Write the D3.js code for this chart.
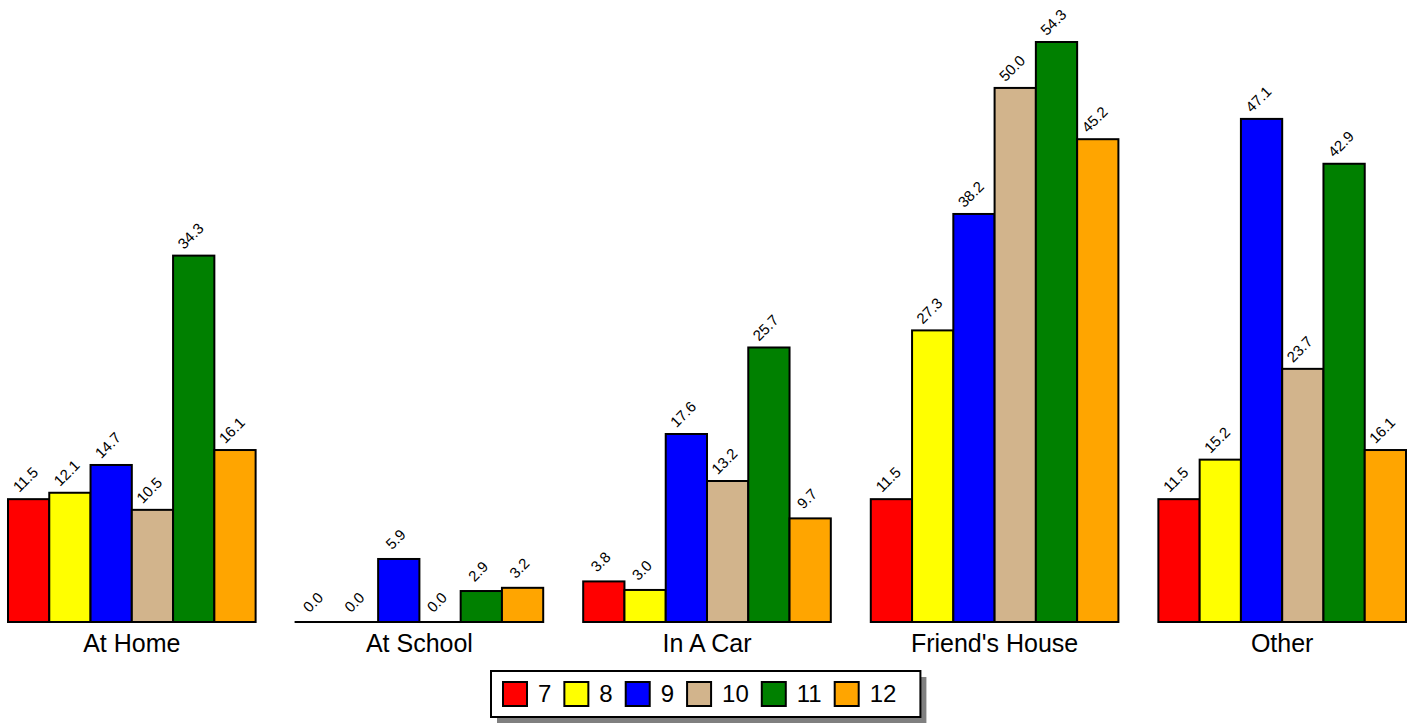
<!DOCTYPE html>
<html lang="en">
  <head>
    <meta charset="UTF-8" />
    <title>Chart</title>
    <script src="https://d3js.org/d3.v7.min.js"></script>
    <style>
      * {
        margin: 0;
        padding: 0;
      }
      body {
        background: #fff;
      }
      text {
        font-family: "Liberation Sans", Arial, sans-serif;
      }
      .value {
        font-size: 15px;
      }
      .cat {
        font-size: 25px;
      }
      .legend-label {
        font-size: 24px;
      }
    </style>
  </head>
  <body>
    <script>
      const categories = ["At Home", "At School", "In A Car", "Friend's House", "Other"];
      const grades = ["7", "8", "9", "10", "11", "12"];
      const colors = ["#ff0000", "#ffff00", "#0000ff", "#d2b48c", "#008000", "#ffa500"];

      // one array per grade, in the order of categories
      const grade7 = [11.5, 0.0, 3.8, 11.5, 11.5];
      const grade8 = [12.1, 0.0, 3.0, 27.3, 15.2];
      const grade9 = [14.7, 5.9, 17.6, 38.2, 47.1];
      const grade10 = [10.5, 0.0, 13.2, 50.0, 23.7];
      const grade11 = [34.3, 2.9, 25.7, 54.3, 42.9];
      const grade12 = [16.1, 3.2, 9.7, 45.2, 16.1];
      const series = [grade7, grade8, grade9, grade10, grade11, grade12];

      let w = 1418;
      let h = 723;

      let svg = d3
        .select("body")
        .append("svg")
        .attr("width", w)
        .attr("height", h);

      let x0 = d3
        .scaleBand()
        .domain(categories)
        .range([8, 1406])
        .paddingInner(0.139)
        .paddingOuter(0);

      let x1 = d3.scaleBand().domain(grades).range([0, x0.bandwidth()]);

      let maxV = d3.max(series, (s) => d3.max(s));
      let y = d3.scaleLinear().domain([0, maxV]).range([622, 42]);

      let rows = [];
      categories.forEach((c, ci) => {
        grades.forEach((g, gi) => {
          rows.push({ cat: c, grade: g, gi: gi, value: series[gi][ci] });
        });
      });

      let bars = svg.append("g").attr("class", "bars");

      bars
        .selectAll("rect")
        .data(rows)
        .enter()
        .append("rect")
        .attr("x", (d) => x0(d.cat) + x1(d.grade))
        .attr("y", (d) => y(d.value))
        .attr("width", x1.bandwidth())
        .attr("height", (d) => Math.max(y(0) - y(d.value), 0.01))
        .attr("fill", (d) => colors[d.gi])
        .attr("stroke", "#000")
        .attr("stroke-width", 2);

      // value labels, tilted
      bars
        .selectAll("text")
        .data(rows)
        .enter()
        .append("text")
        .attr("class", "value")
        .attr("text-anchor", "middle")
        .attr("transform", (d) => {
          let cx = x0(d.cat) + x1(d.grade) + x1.bandwidth() / 2 + 0.5;
          return "translate(" + cx + "," + (y(d.value) - 16) + ") rotate(-45)";
        })
        .text((d) => d.value.toFixed(1));

      // category labels
      svg
        .append("g")
        .selectAll("text")
        .data(categories)
        .enter()
        .append("text")
        .attr("class", "cat")
        .attr("text-anchor", "middle")
        .attr("x", (d) => x0(d) + x0.bandwidth() / 2)
        .attr("y", 652)
        .text((d) => d);

      // legend
      let legend = svg.append("g").attr("class", "legend");
      let shadow = legend.append("rect").attr("fill", "#808080");
      let box = legend.append("rect").attr("fill", "#fff").attr("stroke", "#000").attr("stroke-width", 2);

      let items = legend
        .selectAll("g.item")
        .data(grades)
        .enter()
        .append("g")
        .attr("class", "item");

      items
        .append("rect")
        .attr("x", 1)
        .attr("width", 24)
        .attr("height", 24)
        .attr("y", 682)
        .attr("fill", (d, i) => colors[i])
        .attr("stroke", "#000")
        .attr("stroke-width", 2);

      items
        .append("text")
        .attr("class", "legend-label")
        .attr("x", 36)
        .attr("y", 702)
        .text((d) => d);

      let startX = 502;
      let lx = startX;
      let lastEnd = 0;
      items.each(function () {
        let g = d3.select(this);
        g.attr("transform", "translate(" + lx + ",0)");
        let tw = g.select("text").node().getComputedTextLength();
        lastEnd = lx + 36 + tw;
        lx = lastEnd + 12;
      });

      let bx = 491;
      let bw = lastEnd + 24 - bx;
      box.attr("x", bx).attr("y", 671).attr("width", bw).attr("height", 46);
      shadow.attr("x", bx + 6).attr("y", 677).attr("width", bw).attr("height", 46);
    </script>
  </body>
</html>
